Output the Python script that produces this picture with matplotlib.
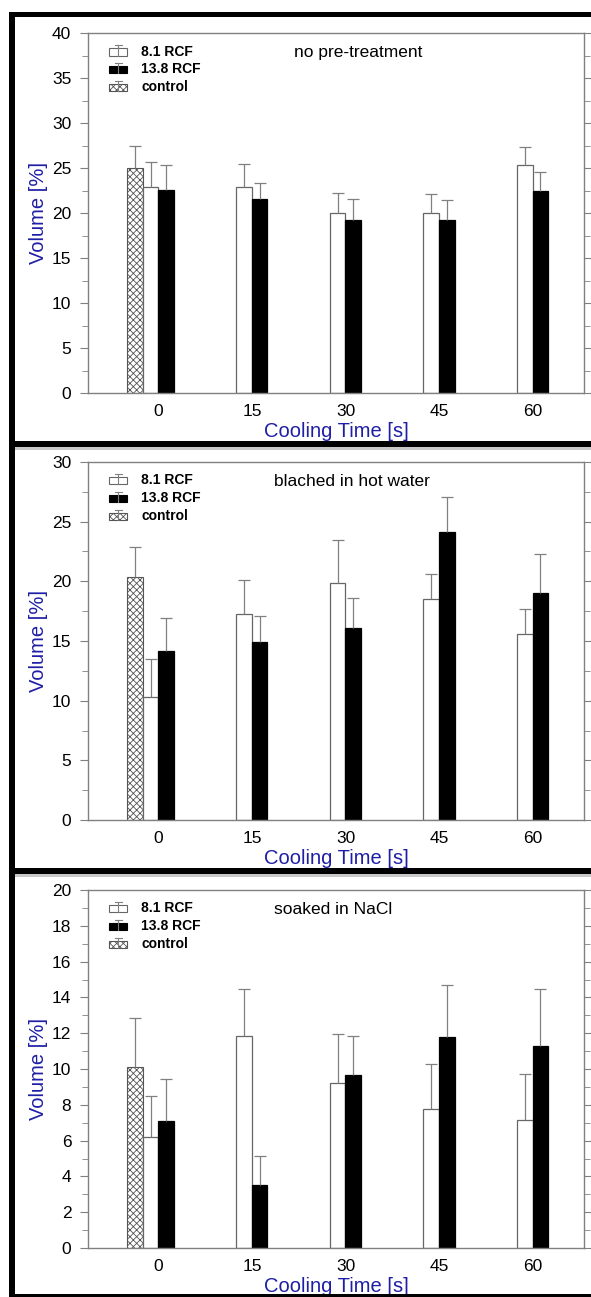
import matplotlib
matplotlib.use('Agg')
import matplotlib.pyplot as plt
import numpy as np
from matplotlib.patches import Rectangle
from matplotlib.lines import Line2D
from matplotlib.legend_handler import HandlerBase
from matplotlib.ticker import MultipleLocator

plt.rcParams['font.family'] = ['Liberation Sans', 'DejaVu Sans']
plt.rcParams['hatch.linewidth'] = 0.6

# ---- data ----
TIMES = ['0', '15', '30', '45', '60']
SERIES = ['8.1 RCF', '13.8 RCF', 'control']
TITLES = ['no pre-treatment', 'blached in hot water', 'soaked in NaCl']
YMAX = [40, 30, 20]
YSTEP = [5, 5, 2]

rcf81 = [
    [22.9, 22.9, 20.0, 20.0, 25.3],
    [10.3, 17.3, 19.9, 18.5, 15.6],
    [6.2, 11.85, 9.2, 7.75, 7.15],
]
rcf81_err = [
    [2.8, 2.5, 2.2, 2.1, 2.0],
    [3.2, 2.8, 3.6, 2.1, 2.1],
    [2.3, 2.6, 2.75, 2.55, 2.55],
]
rcf138 = [
    [22.6, 21.6, 19.2, 19.2, 22.4],
    [14.2, 14.9, 16.1, 24.1, 19.0],
    [7.1, 3.5, 9.65, 11.8, 11.3],
]
rcf138_err = [
    [2.7, 1.7, 2.35, 2.2, 2.15],
    [2.7, 2.2, 2.5, 3.0, 3.3],
    [2.35, 1.65, 2.2, 2.9, 3.15],
]
control = [25.0, 20.35, 10.1]
control_err = [2.5, 2.5, 2.75]

# ---- layout (pixels of a 591x1297 canvas) ----
W, H = 591, 1297
AX_LEFT, AX_RIGHT = 88, 584
AX_TOPS = [33, 462, 890]
AX_BOTS = [393, 820, 1248]
TITLE_X = [0.415, 0.375, 0.375]
BAR_W = 0.166
GRAY = '#808080'
BLUE = '#1f1fa6'


class BarErrHandler(HandlerBase):
    def create_artists(self, legend, orig, xd, yd, width, height, fontsize, trans):
        x0, y0 = xd, yd
        rect = Rectangle((x0, y0), width, height * 0.75,
                         facecolor=orig.get_facecolor(), edgecolor=orig.get_edgecolor(),
                         hatch=orig.get_hatch(), lw=0.8, transform=trans)
        stick = Line2D([x0 + width / 2] * 2, [y0, y0 + height * 1.05],
                       color=GRAY, lw=0.8, transform=trans)
        cap = Line2D([x0 + width * 0.3, x0 + width * 0.7], [y0 + height * 1.05] * 2,
                     color=GRAY, lw=0.8, transform=trans)
        return [rect, stick, cap]


def up_err(ax, xs, tops, errs):
    # one-sided (upward) error bars, cap only on top
    xs = np.asarray(xs, float)
    tops = np.asarray(tops, float)
    ends = tops + np.asarray(errs, float)
    ax.vlines(xs, tops, ends, color=GRAY, lw=0.9, zorder=3)
    ax.plot(xs, ends, ls='none', marker='_', ms=8.5, mew=0.9, color=GRAY, zorder=3)


fig = plt.figure(figsize=(W / 100, H / 100), dpi=100)

x = np.arange(len(TIMES))
for i in range(3):
    ax = fig.add_axes([AX_LEFT / W, 1 - AX_BOTS[i] / H,
                       (AX_RIGHT - AX_LEFT) / W, (AX_BOTS[i] - AX_TOPS[i]) / H])
    x_ctrl = [x[0] - 1.5 * BAR_W]
    b_ctrl = ax.bar(x_ctrl, [control[i]], BAR_W, color='white', edgecolor='#555555',
                    hatch='xxxxx', lw=0.8)
    b81 = ax.bar(x - BAR_W / 2, rcf81[i], BAR_W, color='white',
                 edgecolor='#666666', lw=0.9)
    b138 = ax.bar(x + BAR_W / 2, rcf138[i], BAR_W, color='black',
                  edgecolor='black', lw=0.9)
    up_err(ax, x_ctrl, [control[i]], [control_err[i]])
    up_err(ax, x - BAR_W / 2, rcf81[i], rcf81_err[i])
    up_err(ax, x + BAR_W / 2, rcf138[i], rcf138_err[i])

    ax.set_xlim(-0.753, 4.55)
    ax.set_ylim(0, YMAX[i])
    ax.set_xticks(x)
    ax.set_xticklabels(TIMES)
    ax.yaxis.set_major_locator(MultipleLocator(YSTEP[i]))
    ax.yaxis.set_minor_locator(MultipleLocator(YSTEP[i] / 2))
    ax.tick_params(axis='x', length=0, pad=8, labelsize=12.5)
    ax.tick_params(axis='y', which='both', direction='out', left=True, right=True,
                   color=GRAY, labelsize=12.5, pad=6)
    ax.tick_params(axis='y', which='major', length=6)
    ax.tick_params(axis='y', which='minor', length=4)
    for sp in ax.spines.values():
        sp.set_color(GRAY)
        sp.set_linewidth(1)

    ax.set_ylabel('Volume [%]', color=BLUE, fontsize=14.5, labelpad=3)
    ax.set_xlabel('Cooling Time [s]', color=BLUE, fontsize=14.5, labelpad=2)
    ax.text(TITLE_X[i], 0.945, TITLES[i], transform=ax.transAxes,
            fontsize=12.5, va='center', ha='left')

    handles = [b81.patches[0], b138.patches[0], b_ctrl.patches[0]]
    ax.legend(handles, SERIES, loc='upper left', bbox_to_anchor=(0.043, 0.968),
              frameon=False, borderpad=0, borderaxespad=0, handlelength=1.3,
              handleheight=0.7, handletextpad=1.0, labelspacing=0.28,
              prop={'weight': 'bold', 'size': 10},
              handler_map={Rectangle: BarErrHandler()})


def frame_band(x0, y0, w, h, color='black'):
    fig.add_artist(Rectangle((x0 / W, 1 - (y0 + h) / H), w / W, h / H,
                             transform=fig.transFigure, color=color, lw=0, zorder=10))


# black panel frames (right side cut off in the reference)
frame_band(9, 12, 6, H - 12)
frame_band(9, 12, W - 9, 5)
for y0 in [441, 868]:
    frame_band(15, y0 + 6, W - 15, 3, color='#c8c8c8')
    frame_band(9, y0, W - 9, 6)
frame_band(9, 1294, W - 9, 3)

fig.savefig('out.png', dpi=100)
